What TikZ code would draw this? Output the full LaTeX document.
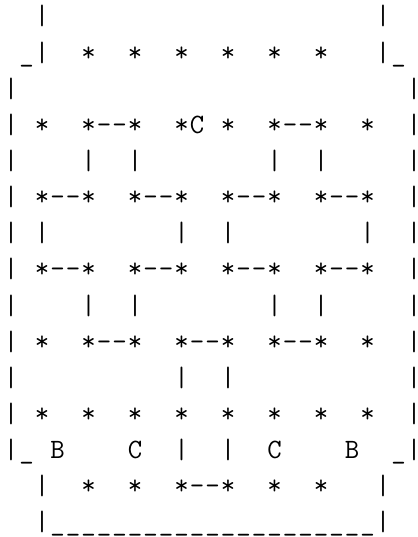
\documentclass[tikz,border=0pt]{standalone}
\usepackage{graphicx}
\tikzset{
  x=1pt,y=1pt,
  glyph/.style={anchor=base,inner sep=0pt,outer sep=0pt,font=\ttfamily\fontsize{28}{28}\selectfont}
}
\newcommand\glyphrow[3]{%
  \foreach \c in {#3}{%
    \node[glyph] (g-#1-\c) at ({11+15.5*\c},{512-36.14*(#1-1)}) {\makebox[0pt]{#2}};
  }%
}
\begin{document}
\begin{tikzpicture}
\useasboundingbox (0,0) rectangle (417,537);
% row 1
\glyphrow{1}{|}{2,24}
% row 2
\glyphrow{2}{\textunderscore}{1,25}
\glyphrow{2}{|}{2,24}
\glyphrow{2}{*}{5,8,11,14,17,20}
% row 3
\glyphrow{3}{|}{0,26}
% row 4
\glyphrow{4}{|}{0,26}
\glyphrow{4}{*}{2,5,8,11,14,17,20,23}
\glyphrow{4}{-}{6,7,18,19}
\glyphrow{4}{C}{12}
% row 5
\glyphrow{5}{|}{0,5,8,17,20,26}
% row 6
\glyphrow{6}{|}{0,26}
\glyphrow{6}{*}{2,5,8,11,14,17,20,23}
\glyphrow{6}{-}{3,4,9,10,15,16,21,22}
% row 7
\glyphrow{7}{|}{0,2,11,14,23,26}
% row 8
\glyphrow{8}{|}{0,26}
\glyphrow{8}{*}{2,5,8,11,14,17,20,23}
\glyphrow{8}{-}{3,4,9,10,15,16,21,22}
% row 9
\glyphrow{9}{|}{0,5,8,17,20,26}
% row 10
\glyphrow{10}{|}{0,26}
\glyphrow{10}{*}{2,5,8,11,14,17,20,23}
\glyphrow{10}{-}{6,7,12,13,18,19}
% row 11
\glyphrow{11}{|}{0,11,14,26}
% row 12
\glyphrow{12}{|}{0,26}
\glyphrow{12}{*}{2,5,8,11,14,17,20,23}
% row 13
\glyphrow{13}{|}{0,11,14,26}
\glyphrow{13}{\textunderscore}{1,25}
\glyphrow{13}{B}{3,22}
\glyphrow{13}{C}{8,17}
% row 14
\glyphrow{14}{|}{2,24}
\glyphrow{14}{*}{5,8,11,14,17,20}
\glyphrow{14}{-}{12,13}
% row 15
\glyphrow{15}{|}{2,24}
\glyphrow{15}{\textunderscore}{3,4,...,23}
\end{tikzpicture}
\end{document}
